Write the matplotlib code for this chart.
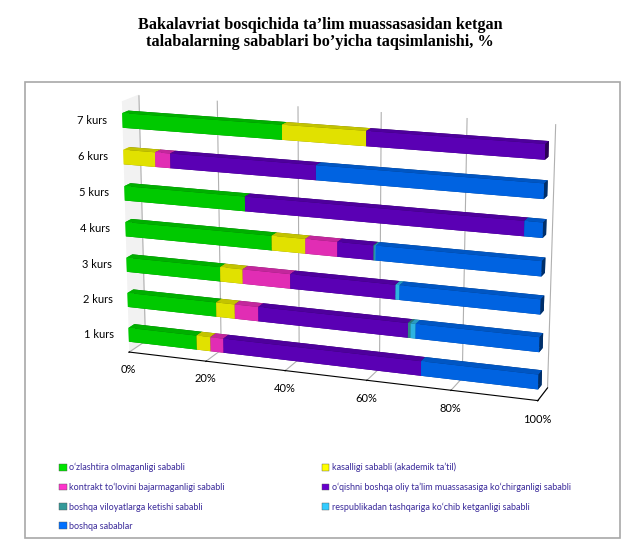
import numpy as np
import matplotlib.pyplot as plt
from matplotlib.patches import Patch, Rectangle

courses = ["1 kurs", "2 kurs", "3 kurs", "4 kurs", "5 kurs", "6 kurs", "7 kurs"]
ticks = [0, 20, 40, 60, 80, 100]
tick_labels = ["0%", "20%", "40%", "60%", "80%", "100%"]

# shares (%) per course, 1 kurs ... 7 kurs
ozlashtira = [17.7, 22.8, 24.0, 36.9, 30.4, 0.0, 39.6]
kasallik = [3.5, 4.7, 5.6, 8.2, 0.0, 8.1, 20.0]
kontrakt = [3.3, 5.9, 11.8, 7.7, 0.0, 3.8, 0.0]
kochirgan = [48.4, 36.3, 25.3, 8.6, 65.5, 35.8, 40.4]
viloyat = [0.0, 0.6, 0.0, 0.3, 0.0, 0.0, 0.0]
respublika = [0.0, 1.2, 0.9, 0.2, 0.0, 0.0, 0.0]
boshqa = [27.1, 28.5, 32.4, 38.1, 4.1, 52.3, 0.0]

series = [ozlashtira, kasallik, kontrakt, kochirgan, viloyat, respublika, boshqa]
labels = ["o\u2018zlashtira olmaganligi sababli",
          "kasalligi sababli (akademik ta\u2019til)",
          "kontrakt to\u2018lovini bajarmaganligi sababli",
          "o\u2018qishni boshqa oliy ta\u2019lim muassasasiga ko\u2018chirganligi sababli",
          "boshqa viloyatlarga ketishi sababli",
          "respublikadan tashqariga ko\u2018chib ketganligi sababli",
          "boshqa sabablar"]
colors = ["#00e400", "#ffff00", "#ff33cc", "#6600cc", "#339999", "#33ccff", "#0070ff"]

plt.rcParams["font.family"] = ["Lato", "DejaVu Sans"]

fig = plt.figure(figsize=(6.4, 5.54), dpi=100)
# 3d axes is kept square, so give it a tall box centred on the plot area
ax = fig.add_axes([0.006, -0.055, 1.0, 1.2], projection="3d")

# build all boxes in one call so depth sorting works
xs, ys, zs, dxs, dys, dzs, cs = [], [], [], [], [], [], []
for i in range(len(courses)):
    left = 0.0
    for s, c in zip(series, colors):
        v = s[i]
        if v > 0:
            xs.append(left); ys.append(0.0); zs.append(i + 1 - 0.2)
            dxs.append(v); dys.append(0.35); dzs.append(0.4)
            cs.append(c)
        left += v
ax.bar3d(xs, ys, zs, dxs, dys, dzs, color=cs, shade=True, edgecolor="none")

ax.set_xlim(0, 100)
ax.set_ylim(0, 1)
ax.set_zlim(0.5, 7.5)
ax.set_xticks(ticks)
ax.set_xticklabels(tick_labels, fontsize=8)
ax.set_yticks([])
ax.set_zticks([])
ax.zaxis.line.set_color((1, 1, 1, 0))
for i, name in enumerate(courses):
    ax.text(-4, 0, i + 1, name, fontsize=8, ha="right", va="center_baseline")
ax.view_init(elev=15, azim=-70)
ax.set_proj_type("persp", focal_length=0.55)
ax.set_box_aspect((5, 0.45, 3.03), zoom=0.78)

for a in (ax.xaxis, ax.yaxis, ax.zaxis):
    a.set_pane_color((1, 1, 1, 0))
    a._axinfo["grid"]["color"] = (1, 1, 1, 0)
ax.xaxis.set_pane_color((0.95, 0.95, 0.95, 1))
ax.xaxis._axinfo["grid"]["color"] = "#b0b0b0"
ax.xaxis._axinfo["grid"]["linewidth"] = 0.8

fig.text(0.5, 0.97, "Bakalavriat bosqichida ta\u2019lim muassasasidan ketgan\n"
         "talabalarning sabablari bo\u2019yicha taqsimlanishi, %",
         ha="center", va="top", fontsize=11.7, fontweight="bold",
         family="Liberation Serif", linespacing=1.1)

fig.patches.append(Rectangle((0.039, 0.029), 0.93, 0.823, transform=fig.transFigure,
                             fill=False, edgecolor="#a8a8a8", linewidth=1.2))

handles = [Patch(facecolor=c, edgecolor="#555555", linewidth=0.3) for c in colors]
order = [0, 2, 4, 6, 1, 3, 5]
fig.legend([handles[k] for k in order], [labels[k] for k in order],
           loc="lower left", bbox_to_anchor=(0.08, 0.027), ncol=2, frameon=False,
           fontsize=6.5, labelcolor="#3a2a9a", handlelength=0.8, handleheight=0.8,
           handletextpad=0.3, columnspacing=10.8, labelspacing=1.15)

fig.savefig("out.png", dpi=100)
